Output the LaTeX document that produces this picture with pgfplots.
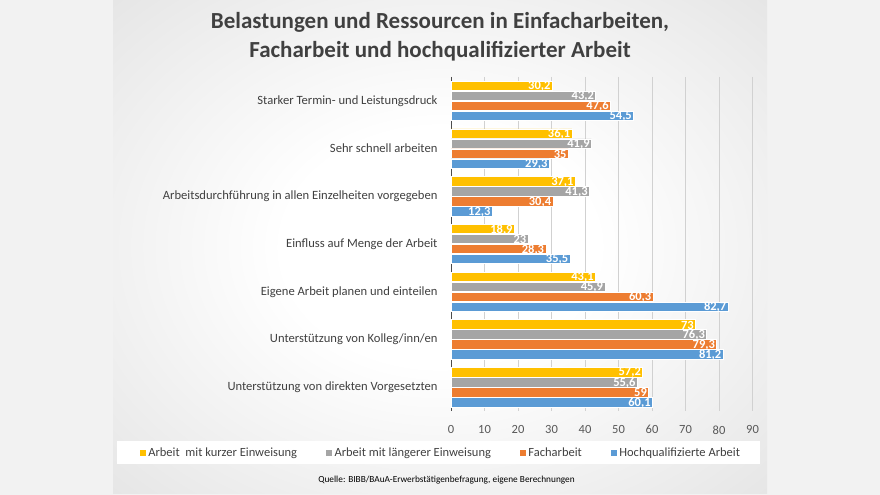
\documentclass[border=0pt]{standalone}
\usepackage{fontspec}
\setmainfont{Carlito}
\usepackage{pgfplots}
\usepackage{pgfplotstable}
\pgfplotsset{compat=1.18}
\definecolor{cyel}{HTML}{FFC000}
\definecolor{cgry}{HTML}{A5A5A5}
\definecolor{cora}{HTML}{ED7D31}
\definecolor{cblu}{HTML}{5B9BD5}
\definecolor{txt}{HTML}{404040}
\definecolor{tick}{HTML}{595959}
\definecolor{outer}{HTML}{F2F2F2}
\pgfdeclareradialshading{panel}{\pgfpoint{0bp}{0bp}}{color(0bp)=(white); color(12bp)=(white); color(50bp)=(black!16); color(72bp)=(black!25)}
% y: category index (0 = top); a: kurze Einweisung, b: laengere Einweisung, c: Facharbeit, d: Hochqualifiziert
\pgfplotstableread{
y a b c d
0 30.2 43.2 47.6 54.5
1 36.1 41.9 35 29.3
2 37.1 41.3 30.4 12.3
3 18.9 23 28.3 35.5
4 43.1 45.9 60.3 82.7
5 73 76.3 79.3 81.2
6 57.2 55.6 59 60.1
}\data
\begin{document}
\begin{tikzpicture}[x=1bp,y=1bp]
\fill[outer] (0,0) rectangle (880,495);
\shade[shading=panel] (113,1) rectangle (767,495);
\fill[white] (117,31) rectangle (760,54);
\node[font=\fontsize{23bp}{26bp}\selectfont\bfseries, text=txt] at (440,472.3) {Belastungen und Ressourcen in Einfacharbeiten,};
\node[font=\fontsize{23bp}{26bp}\selectfont\bfseries, text=txt] at (440,443.3) {Facharbeit und hochqualifizierter Arbeit};
\node[font=\fontsize{9.3bp}{11bp}\selectfont, text=black] at (446.5,15) {Quelle: BIBB/BAuA-Erwerbstätigenbefragung, eigene Berechnungen};
\begin{axis}[
  at={(451bp,84bp)}, anchor=south west,
  scale only axis, width=301.5bp, height=334bp,
  xmin=0, xmax=90, ymin=-0.5, ymax=6.5, y dir=reverse,
  xtick={0,10,...,90}, ytick={0,...,6},
  yticklabels={Starker Termin- und Leistungsdruck, Sehr schnell arbeiten, Arbeitsdurchführung in allen Einzelheiten vorgegeben, Einfluss auf Menge der Arbeit, Eigene Arbeit planen und einteilen, Unterstützung von Kolleg/inn/en, Unterstützung von direkten Vorgesetzten},
  axis lines*=left,
  x axis line style={draw=none},
  y axis line style={draw=black!70, line width=0.8bp, -},
  major tick length=0pt,
  xmajorgrids, grid style={draw=black!18, line width=0.6bp},
  /pgf/number format/assume math mode=true,
  /pgf/number format/use comma,
  xticklabel style={font=\fontsize{12.5bp}{14bp}\selectfont, text=tick, yshift=-11bp},
  yticklabel style={font=\fontsize{12.6bp}{14bp}\selectfont, text=txt, xshift=-10bp},
  xbar, bar width=9.4bp,
  every axis plot/.append style={draw=white, line width=0.5bp},
  lbl/.style={forget plot, draw=none, fill=none, nodes near coords,
    nodes near coords style={anchor=east, text=white, inner sep=1.5bp, yshift=-0.6bp, font=\fontsize{12.5bp}{14bp}\selectfont\bfseries}},
  legend columns=4,
  legend cell align=left,
  legend style={at={(axis description cs:-0.0335,-0.1243)}, anchor=center, draw=none, fill=none, font=\fontsize{12.5bp}{14bp}\selectfont, text=txt,
    /tikz/every even column/.append style={column sep=27bp},
    /tikz/every odd column/.append style={column sep=0.5bp}},
  legend image code/.code={\fill[#1,draw=none] (0bp,-3bp) rectangle (6bp,3bp);},
]
\addplot[fill=cyel, bar shift=15bp] table[x=a,y=y] {\data};
\addplot[fill=cgry, bar shift=5bp] table[x=b,y=y] {\data};
\addplot[fill=cora, bar shift=-5bp] table[x=c,y=y] {\data};
\addplot[fill=cblu, bar shift=-15bp] table[x=d,y=y] {\data};
\legend{Arbeit\ \ mit kurzer Einweisung, Arbeit mit längerer Einweisung, Facharbeit, Hochqualifizierte Arbeit}
\addplot[lbl, bar shift=15bp] table[x=a,y=y] {\data};
\addplot[lbl, bar shift=5bp] table[x=b,y=y] {\data};
\addplot[lbl, bar shift=-5bp] table[x=c,y=y] {\data};
\addplot[lbl, bar shift=-15bp] table[x=d,y=y] {\data};
\end{axis}
\end{tikzpicture}
\end{document}
